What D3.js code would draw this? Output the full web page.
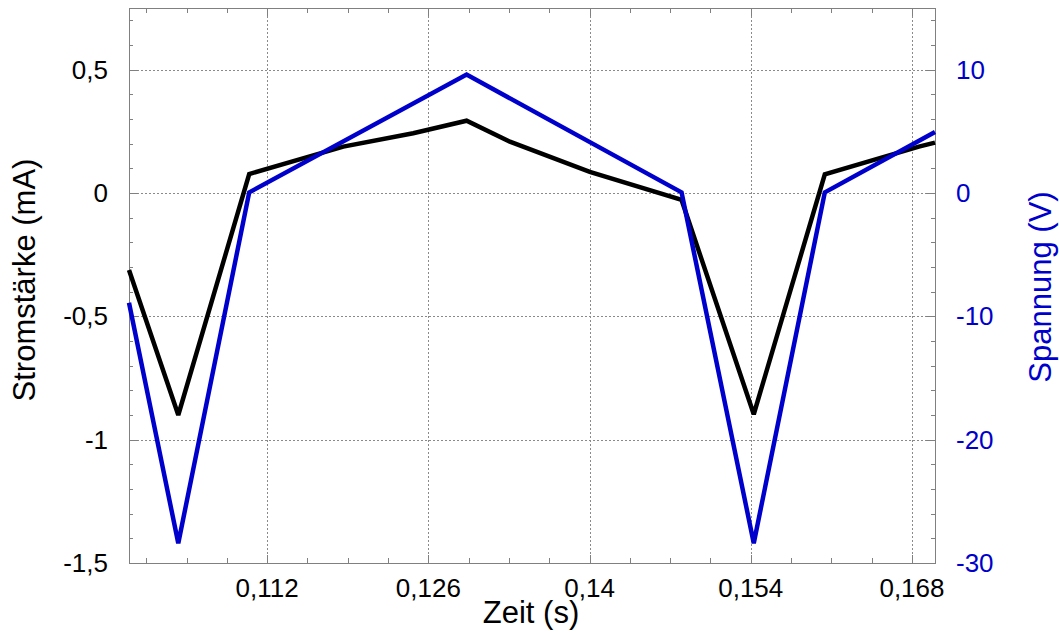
<!DOCTYPE html>
<html>
<head>
<meta charset="utf-8">
<script src="https://cdn.jsdelivr.net/npm/d3@7"></script>
<style>
  html, body { margin: 0; padding: 0; background: #fff; }
  svg { display: block; font-family: "Liberation Sans", Arial, sans-serif; }
</style>
</head>
<body>
<svg id="chart" width="1059" height="632"></svg>
<script>
// ---- data ----
const timeCurrent = [0.1, 0.10428, 0.11044, 0.11861, 0.12468, 0.12932, 0.13308, 0.14002, 0.14799, 0.15426, 0.16043, 0.1686, 0.17];
const current     = [-0.312, -0.9, 0.077, 0.188, 0.242, 0.293, 0.208, 0.086, -0.028, -0.897, 0.076, 0.188, 0.204];
const timeVoltage = [0.1, 0.10428, 0.11044, 0.12932, 0.14799, 0.15426, 0.16043, 0.17];
const voltage     = [-8.9, -28.4, 0.05, 9.6, 0.05, -28.4, 0.05, 4.95];

const xTicks      = [0.112, 0.126, 0.14, 0.154, 0.168];
const xTickLabels = ["0,112", "0,126", "0,14", "0,154", "0,168"];
const yLTicks      = [-1.5, -1, -0.5, 0, 0.5];
const yLTickLabels = ["-1,5", "-1", "-0,5", "0", "0,5"];
const yRTicks      = [-30, -20, -10, 0, 10];
const yRTickLabels = ["-30", "-20", "-10", "0", "10"];

// ---- layout ----
const L = 129, R = 935, T = 8, B = 563;
const blue = "#0000cc";
const svg = d3.select("#chart");

const x  = d3.scaleLinear().domain([0.1, 0.17]).range([L, R]);
const yL = d3.scaleLinear().domain([-1.5, 0.75]).range([B, T]);
const yR = d3.scaleLinear().domain([-30, 15]).range([B, T]);

const xMinor = d3.range(0.1015, 0.1701, 0.0035);
const yLMinor = d3.range(-1.5, 0.751, 0.1);

// grid
const grid = svg.append("g").attr("stroke", "#8a8a8a").attr("stroke-width", 1).attr("stroke-dasharray", "2,2");
grid.selectAll(".gx").data(xTicks).join("line")
  .attr("x1", d => Math.round(x(d)) + 0.5).attr("x2", d => Math.round(x(d)) + 0.5)
  .attr("y1", T).attr("y2", B);
grid.selectAll(".gy").data(yLTicks.filter(d => d > -1.5)).join("line")
  .attr("y1", d => Math.round(yL(d)) + 0.5).attr("y2", d => Math.round(yL(d)) + 0.5)
  .attr("x1", L).attr("x2", R);

// ticks (inside, on all sides)
const tk = svg.append("g").attr("stroke", "#808080").attr("stroke-width", 1);
xMinor.forEach(v => {
  const px = Math.round(x(v)) + 0.5;
  const major = xTicks.some(t => Math.abs(t - v) < 1e-6);
  const len = major ? 8 : 5;
  tk.append("line").attr("x1", px).attr("x2", px).attr("y1", B).attr("y2", B - len);
  tk.append("line").attr("x1", px).attr("x2", px).attr("y1", T).attr("y2", T + len);
});
yLMinor.forEach(v => {
  const py = Math.round(yL(v)) + 0.5;
  const major = yLTicks.some(t => Math.abs(t - v) < 1e-6);
  const len = major ? 9 : 4;
  tk.append("line").attr("y1", py).attr("y2", py).attr("x1", L).attr("x2", L + len);
  tk.append("line").attr("y1", py).attr("y2", py).attr("x1", R).attr("x2", R - len);
});

// frame
svg.append("rect").attr("x", L + 0.5).attr("y", T + 0.5)
  .attr("width", R - L).attr("height", B - T)
  .attr("fill", "none").attr("stroke", "#808080").attr("stroke-width", 1);

// tick labels
const fs = 26;
svg.append("g").selectAll("text").data(xTicks).join("text")
  .attr("x", d => x(d)).attr("y", 597)
  .attr("text-anchor", "middle").attr("font-size", fs).attr("fill", "#000")
  .text((d, i) => xTickLabels[i]);
svg.append("g").selectAll("text").data(yLTicks).join("text")
  .attr("x", 108).attr("y", d => yL(d)).attr("dy", "0.35em")
  .attr("text-anchor", "end").attr("font-size", fs).attr("fill", "#000")
  .text((d, i) => yLTickLabels[i]);
svg.append("g").selectAll("text").data(yRTicks).join("text")
  .attr("x", 956).attr("y", d => yR(d)).attr("dy", "0.35em")
  .attr("text-anchor", "start").attr("font-size", fs).attr("fill", blue)
  .text((d, i) => yRTickLabels[i]);

// axis titles
svg.append("text").attr("x", 531).attr("y", 623).attr("text-anchor", "middle")
  .attr("font-size", 31).attr("fill", "#000").text("Zeit (s)");
svg.append("text").attr("transform", "translate(35,280) rotate(-90)")
  .attr("text-anchor", "middle").attr("font-size", 31).attr("fill", "#000").text("Stromstärke (mA)");
svg.append("text").attr("transform", "translate(1051,287) rotate(-90)")
  .attr("text-anchor", "middle").attr("font-size", 31).attr("fill", blue).text("Spannung (V)");

// lines
const lineI = d3.line().x(d => x(d[0])).y(d => yL(d[1]));
const lineU = d3.line().x(d => x(d[0])).y(d => yR(d[1]));
svg.append("path").datum(timeCurrent.map((t, i) => [t, current[i]]))
  .attr("d", lineI).attr("fill", "none").attr("stroke", "#000").attr("stroke-width", 4.5)
  .attr("stroke-linejoin", "miter").attr("stroke-miterlimit", 3);
svg.append("path").datum(timeVoltage.map((t, i) => [t, voltage[i]]))
  .attr("d", lineU).attr("fill", "none").attr("stroke", blue).attr("stroke-width", 4.5)
  .attr("stroke-linejoin", "miter").attr("stroke-miterlimit", 3);
</script>
</body>
</html>
